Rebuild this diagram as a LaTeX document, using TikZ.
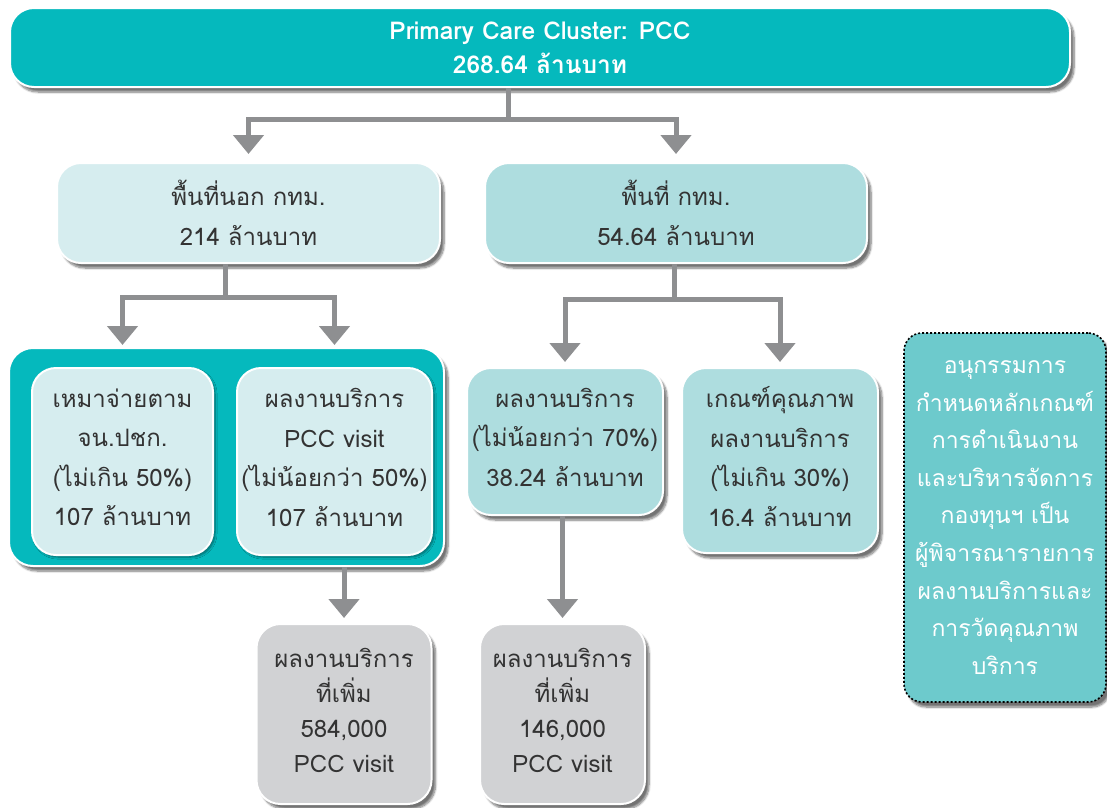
\documentclass[tikz,border=0pt]{standalone}
\usepackage{fontspec}
\setmainfont{Loma}[Script=Thai]
\usetikzlibrary{arrows.meta,shadows.blur}
\definecolor{tealdark}{HTML}{05B9BD}
\definecolor{tealpale}{HTML}{D6EDEF}
\definecolor{tealmid}{HTML}{AEDDDF}
\definecolor{greybox}{HTML}{D1D2D4}
\definecolor{tealnote}{HTML}{6DCACC}
\definecolor{conngrey}{HTML}{8E8F91}
\definecolor{txtdark}{HTML}{333333}
\newcommand\liftup[1]{\\[#1]\mbox{}}
\begin{document}
\begin{tikzpicture}[x=1pt,y=-1pt,
  box/.style={rounded corners=24pt, draw=white, line width=2pt, align=center,
    text=txtdark, inner sep=0pt, font=\fontsize{24}{39.5}\selectfont,
    blur shadow={shadow xshift=4pt, shadow yshift=-5pt, shadow blur steps=8, shadow opacity=55}},
  conn/.style={draw=conngrey, line width=5pt},
  tipdown/.style={-{Triangle[width=30pt,length=19pt]}}
]
\useasboundingbox (0,0) rectangle (1107,807);

% top
\node[box, fill=tealdark, text=white, minimum width=1060pt, minimum height=79pt,
  font=\bfseries\fontsize{24.5}{34}\selectfont] (top) at (540,47.5)
  {Primary Care Cluster: PCC\\268.64 ล้านบาท};

% second level
\node[box, fill=tealpale, minimum width=383pt, minimum height=100pt] (L) at (248.5,213)
  {พื้นที่นอก กทม.\\214 ล้านบาท};
\node[box, fill=tealmid, minimum width=382pt, minimum height=100pt] (R) at (676,213)
  {พื้นที่ กทม.\\54.64 ล้านบาท};

% container
\node[box, fill=tealdark, minimum width=435pt, minimum height=218pt] (C) at (226.5,457) {};
\node[box, fill=tealpale, minimum width=181pt, minimum height=187pt,
  blur shadow={shadow xshift=2pt, shadow yshift=-2pt, shadow opacity=25}] (I1) at (122.5,461.5)
  {เหมาจ่ายตาม\\จน.ปชก.\\(ไม่เกิน 50\%)\\107 ล้านบาท\liftup{-31pt}};
\node[box, fill=tealpale, minimum width=195pt, minimum height=187pt,
  blur shadow={shadow xshift=2pt, shadow yshift=-2pt, shadow opacity=25}] (I2) at (334.5,461.5)
  {ผลงานบริการ\\PCC visit\\(ไม่น้อยกว่า 50\%)\\107 ล้านบาท\liftup{-31pt}};

% right children
\node[box, fill=tealmid, minimum width=196pt, minimum height=147pt] (A) at (565,441.5)
  {ผลงานบริการ\\(ไม่น้อยกว่า 70\%)\\38.24 ล้านบาท\liftup{-31pt}};
\node[box, fill=tealmid, minimum width=196pt, minimum height=185pt] (B) at (780,460.5)
  {เกณฑ์คุณภาพ\\ผลงานบริการ\\(ไม่เกิน 30\%)\\16.4 ล้านบาท\liftup{-31pt}};

% bottom grey
\node[box, fill=greybox, minimum width=175pt, minimum height=180pt,
  font=\fontsize{24}{35}\selectfont] (G1) at (344,714)
  {ผลงานบริการ\\ที่เพิ่ม\\584,000\\PCC visit\liftup{-27pt}};
\node[box, fill=greybox, minimum width=165pt, minimum height=180pt,
  font=\fontsize{24}{35}\selectfont] (G2) at (562.5,714)
  {ผลงานบริการ\\ที่เพิ่ม\\146,000\\PCC visit\liftup{-27pt}};

% note
\node[box, fill=tealnote, draw=black, dotted, line width=1.6pt, rounded corners=18pt,
  text=white, minimum width=202pt, minimum height=369pt,
  font=\fontsize{23}{37.6}\selectfont] (D) at (1005,517.5)
  {อนุกรรมการ\\กำหนดหลักเกณฑ์\\การดำเนินงาน\\และบริหารจัดการ\\กองทุนฯ เป็น\\ผู้พิจารณารายการ\\ผลงานบริการและ\\การวัดคุณภาพ\\บริการ};

% connectors
\draw[conn] ([xshift=-32pt]top.south) -- ++(0,31) coordinate (j1);
\draw[conn,tipdown,shorten >=8pt] (j1) -| (L.north);
\draw[conn,tipdown,shorten >=8pt] (j1) -| (R.north);

\draw[conn] ([xshift=-23pt]L.south) -- ++(0,33) coordinate (j2);
\draw[conn,tipdown,shorten >=22pt] (j2) -| (I1.north);
\draw[conn,tipdown,shorten >=22pt] (j2) -| (I2.north);

\draw[conn] ([xshift=-2pt]R.south) -- ++(0,35) coordinate (j3);
\draw[conn,tipdown,shorten >=5pt] (j3) -| (A.north);
\draw[conn,tipdown,shorten >=5pt] (j3) -| (B.north);

\draw[conn,tipdown,shorten >=5pt] (G1.north |- C.south) -- (G1.north);
\draw[conn,tipdown,shorten >=5pt] (G2.north |- A.south) -- (G2.north);
\end{tikzpicture}
\end{document}
